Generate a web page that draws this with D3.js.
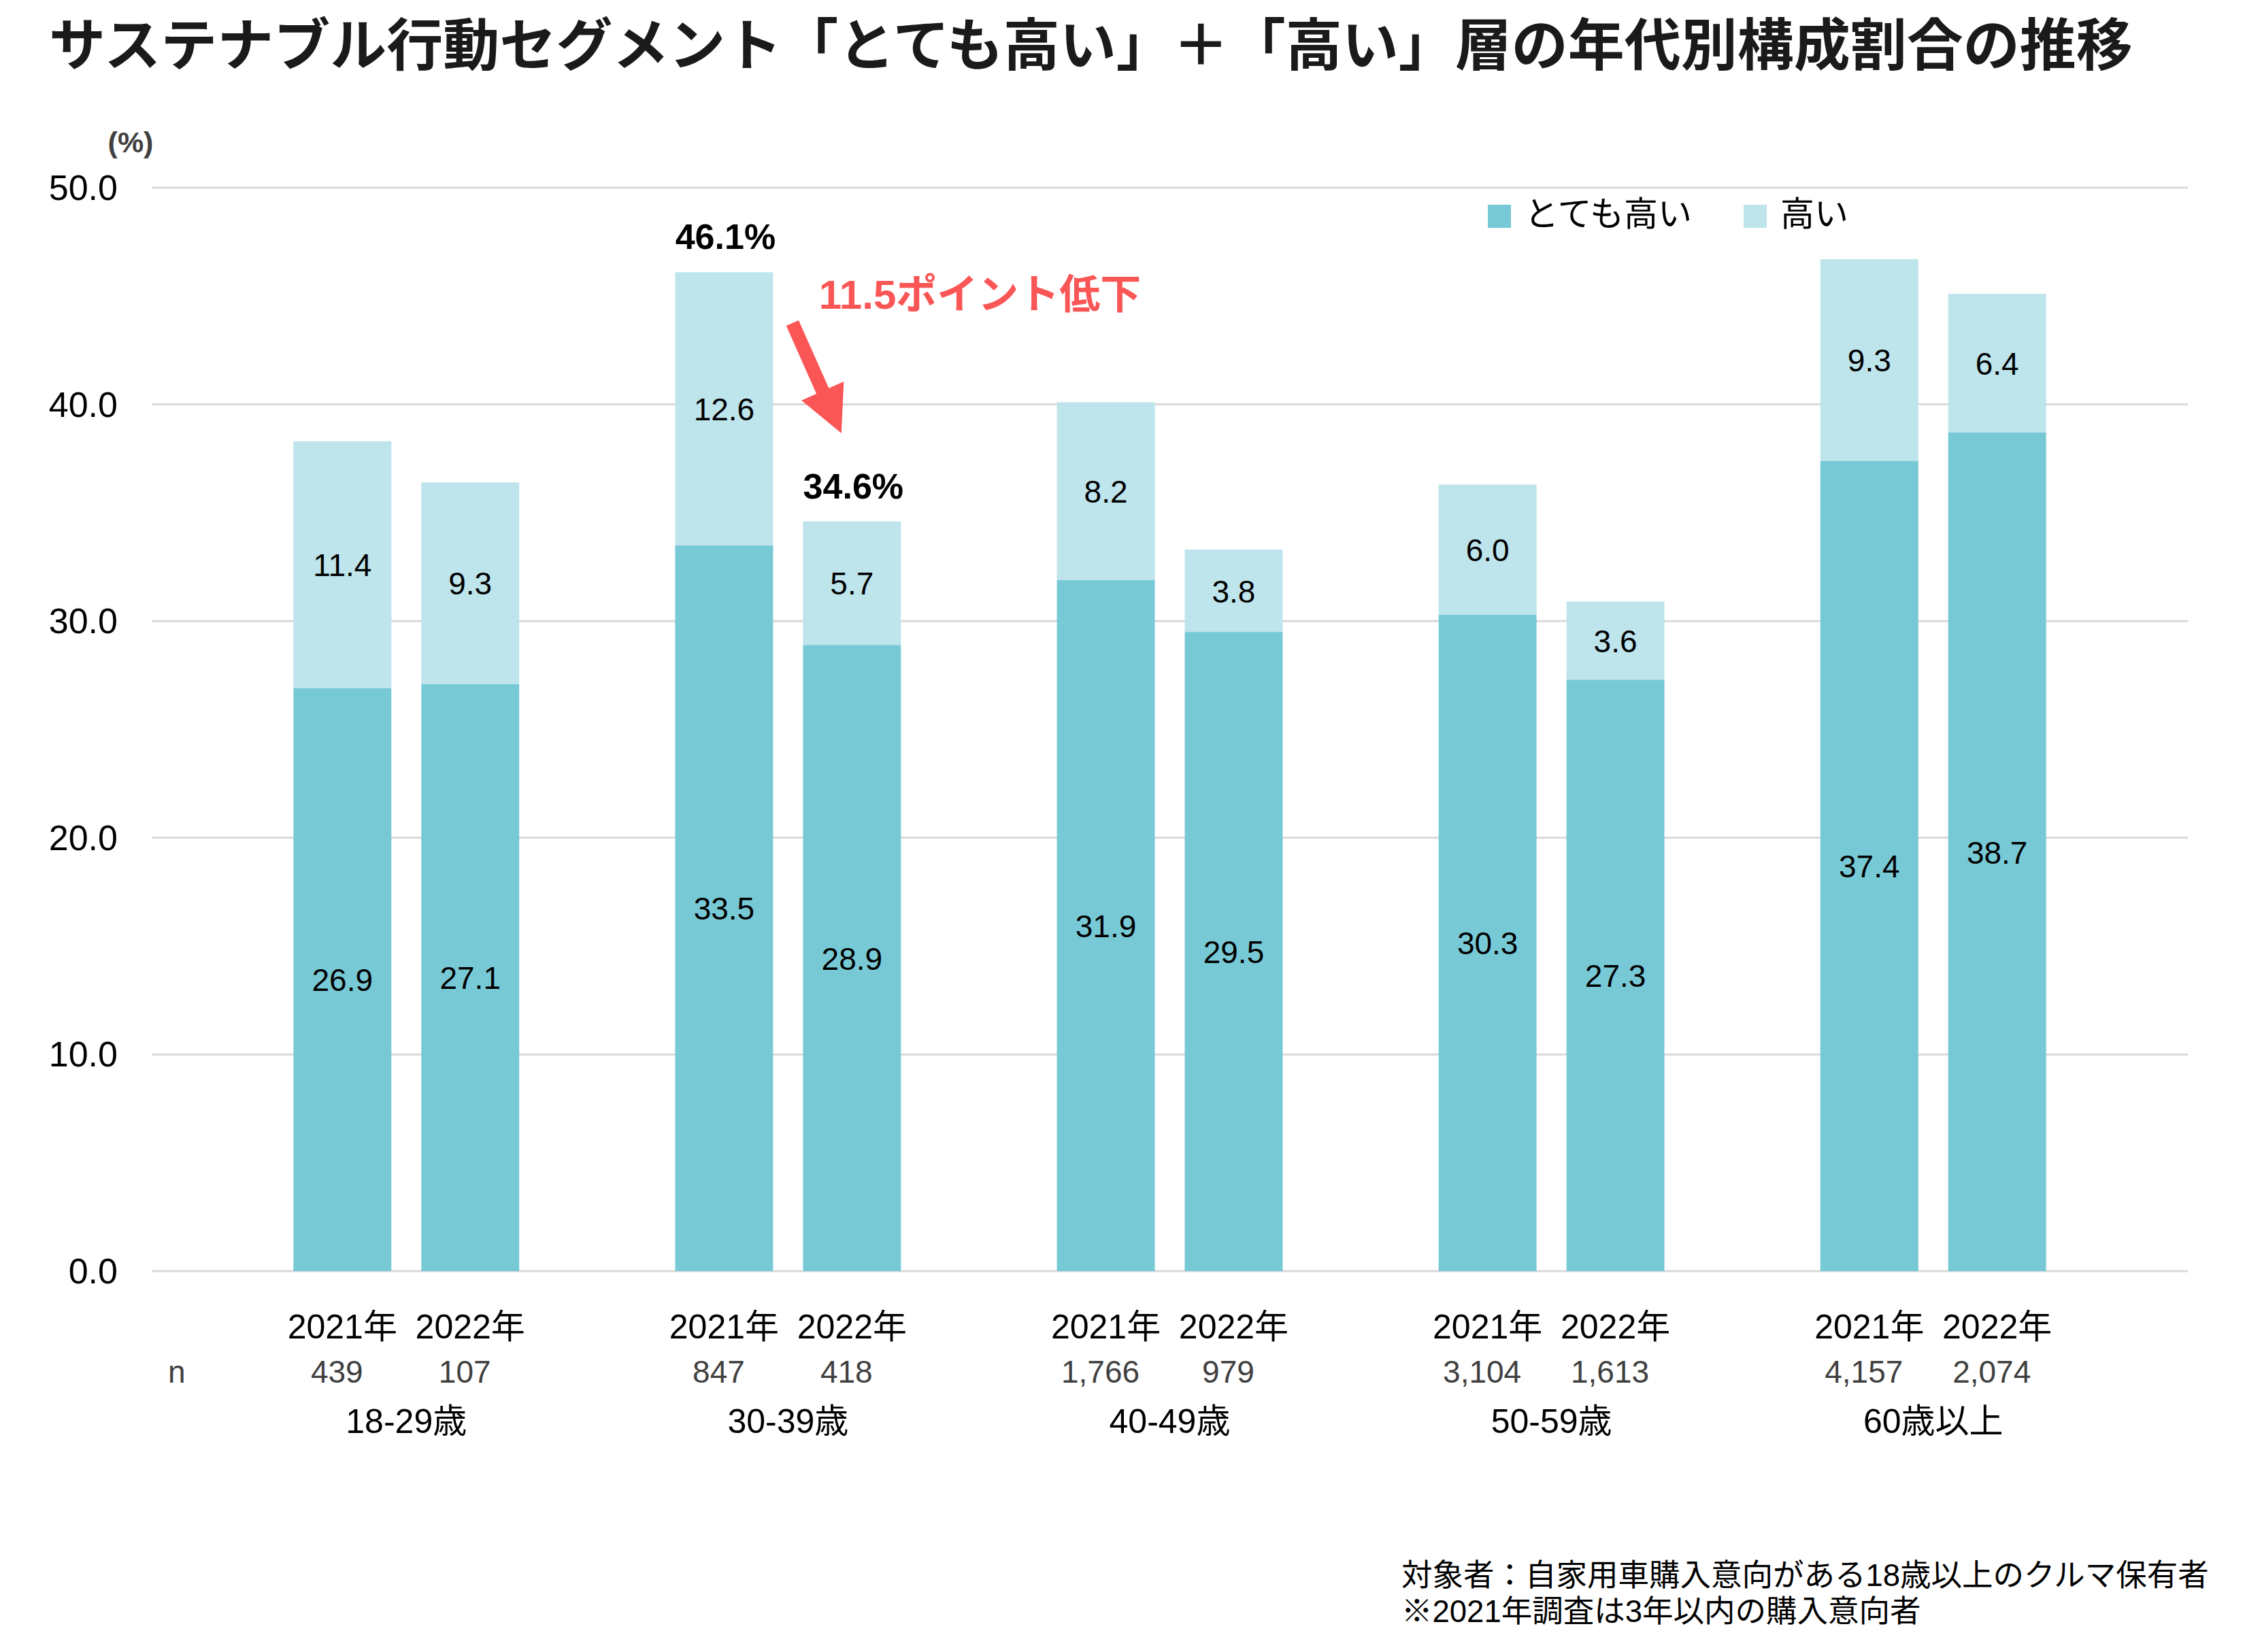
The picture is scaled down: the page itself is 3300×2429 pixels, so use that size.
<!DOCTYPE html>
<html>
<head>
<meta charset="utf-8">
<script src="https://cdn.jsdelivr.net/npm/d3@7"></script>
<style>
  body { margin: 0; background: #fff; }
  text { font-family: "Liberation Sans", Arial, "Noto Sans CJK JP", sans-serif; }
  .jp { font-family: "Noto Sans CJK JP", sans-serif; }
</style>
</head>
<body>
<div id="chart"></div>
<script>
// stacked bars: sustainable segment by age group, 2021 vs 2022

var groups = ["18-29歳", "30-39歳", "40-49歳", "50-59歳", "60歳以上"]
var years = ["2021年", "2022年"]

var veryHigh2021 = [26.9, 33.5, 31.9, 30.3, 37.4]
var veryHigh2022 = [27.1, 28.9, 29.5, 27.3, 38.7]
var high2021 = [11.4, 12.6, 8.2, 6.0, 9.3]
var high2022 = [9.3, 5.7, 3.8, 3.6, 6.4]

var n2021 = ["439", "847", "1,766", "3,104", "4,157"]
var n2022 = ["107", "418", "979", "1,613", "2,074"]

var yTicks = [0, 10, 20, 30, 40, 50]
var seriesNames = ["とても高い", "高い"]

var darkColor = "#78C9D6"
var lightColor = "#BEE4EC"

var width = 3300, height = 2429
var plot = { left: 223, right: 3216, top: 276, bottom: 1869 }

var svg = d3.select("#chart").append("svg")
    .attr("width", width)
    .attr("height", height)

// rows for drawing
var rows = []
groups.forEach(function (g, i) {
  rows.push({ group: g, year: years[0], dark: veryHigh2021[i], light: high2021[i], n: n2021[i] })
  rows.push({ group: g, year: years[1], dark: veryHigh2022[i], light: high2022[i], n: n2022[i] })
})

// Scales

var y = d3.scaleLinear()
  .domain([0, 50])
  .range([plot.bottom, plot.top])

var x0 = d3.scaleBand()
  .domain(groups)
  .range([plot.left, plot.right])
  .paddingInner(0)
  .paddingOuter(0.167)

var x1 = d3.scaleBand()
  .domain(years)
  .range([0, x0.bandwidth()])
  .paddingInner(0.234)
  .paddingOuter(0.61)

function barX(d) { return x0(d.group) + x1(d.year) }
function barMid(d) { return barX(d) + x1.bandwidth() / 2 }

// Title

svg.append("text")
  .attr("class", "jp")
  .attr("x", 72)
  .attr("y", 96)
  .attr("font-size", 83)
  .attr("font-weight", 700)
  .attr("fill", "#1a1a1a")
  .text("サステナブル行動セグメント「とても高い」＋「高い」層の年代別構成割合の推移")

// Gridlines + y labels

svg.selectAll(".grid")
  .data(yTicks)
  .enter().append("line")
  .attr("class", "grid")
  .attr("x1", plot.left)
  .attr("x2", plot.right)
  .attr("y1", function (d) { return y(d) })
  .attr("y2", function (d) { return y(d) })
  .attr("stroke", "#D9D9D9")
  .attr("stroke-width", 3)

svg.selectAll(".ylabel")
  .data(yTicks)
  .enter().append("text")
  .attr("class", "ylabel")
  .attr("x", 173)
  .attr("y", function (d) { return y(d) + 18 })
  .attr("text-anchor", "end")
  .attr("font-size", 52)
  .attr("fill", "#000")
  .text(function (d) { return d3.format(".1f")(d) })

svg.append("text")
  .attr("x", 192)
  .attr("y", 224)
  .attr("text-anchor", "middle")
  .attr("font-size", 43)
  .attr("font-weight", 700)
  .attr("fill", "#404040")
  .text("(%)")

// Bars

svg.selectAll(".dark")
  .data(rows)
  .enter().append("rect")
  .attr("class", "dark")
  .attr("x", barX)
  .attr("width", x1.bandwidth())
  .attr("y", function (d) { return y(d.dark) })
  .attr("height", function (d) { return y(0) - y(d.dark) })
  .attr("fill", darkColor)

svg.selectAll(".light")
  .data(rows)
  .enter().append("rect")
  .attr("class", "light")
  .attr("x", barX)
  .attr("width", x1.bandwidth())
  .attr("y", function (d) { return y(d.dark + d.light) })
  .attr("height", function (d) { return y(d.dark) - y(d.dark + d.light) })
  .attr("fill", lightColor)

// Value labels

svg.selectAll(".darklabel")
  .data(rows)
  .enter().append("text")
  .attr("x", barMid)
  .attr("y", function (d) { return y(d.dark / 2) + 17 })
  .attr("text-anchor", "middle")
  .attr("font-size", 46)
  .attr("fill", "#000")
  .text(function (d) { return d3.format(".1f")(d.dark) })

svg.selectAll(".lightlabel")
  .data(rows)
  .enter().append("text")
  .attr("x", barMid)
  .attr("y", function (d) { return y(d.dark + d.light / 2) + 17 })
  .attr("text-anchor", "middle")
  .attr("font-size", 46)
  .attr("fill", "#000")
  .text(function (d) { return d3.format(".1f")(d.light) })

// Totals for 30-39

var highlight = rows.filter(function (d) { return d.group === "30-39歳" })

svg.selectAll(".total")
  .data(highlight)
  .enter().append("text")
  .attr("x", function (d) { return barMid(d) + 2 })
  .attr("y", function (d) { return y(d.dark + d.light) - 34 })
  .attr("text-anchor", "middle")
  .attr("font-size", 52)
  .attr("font-weight", 700)
  .attr("fill", "#000")
  .text(function (d) { return d3.format(".1f")(d.dark + d.light) + "%" })

// Annotation arrow

var red = "#FA5656"
var ax0 = x0("30-39歳")
var start = [ax0 + 287, 475], tip = [ax0 + 359, 637]
var dx = tip[0] - start[0], dy = tip[1] - start[1]
var len = Math.sqrt(dx * dx + dy * dy)
var ux = dx / len, uy = dy / len, px = -uy, py = ux
var headLen = 68, headHalf = 34, shaftHalf = 10
var bx = tip[0] - ux * headLen, by = tip[1] - uy * headLen
var arrowPts = [
  [start[0] + px * shaftHalf, start[1] + py * shaftHalf],
  [bx + px * shaftHalf, by + py * shaftHalf],
  [bx + px * headHalf, by + py * headHalf],
  tip,
  [bx - px * headHalf, by - py * headHalf],
  [bx - px * shaftHalf, by - py * shaftHalf],
  [start[0] - px * shaftHalf, start[1] - py * shaftHalf]
]
svg.append("polygon")
  .attr("points", arrowPts.map(function (p) { return p.join(",") }).join(" "))
  .attr("fill", red)

svg.append("text")
  .attr("x", ax0 + 326)
  .attr("y", 454)
  .attr("font-size", 60)
  .attr("font-weight", 700)
  .attr("fill", red)
  .text("11.5ポイント低下")

// Legend

var legend = svg.selectAll(".legend")
  .data(seriesNames)
  .enter().append("g")
  .attr("transform", function (d, i) { return "translate(" + (2187 + i * 376) + ",301)" })

legend.append("rect")
  .attr("width", 34)
  .attr("height", 34)
  .attr("fill", function (d, i) { return i === 0 ? darkColor : lightColor })

legend.append("text")
  .attr("class", "jp")
  .attr("x", 54)
  .attr("y", 31)
  .attr("font-size", 50)
  .attr("fill", "#000")
  .text(function (d) { return d })

// X axis labels

svg.selectAll(".yearlabel")
  .data(rows)
  .enter().append("text")
  .attr("x", barMid)
  .attr("y", 1968)
  .attr("text-anchor", "middle")
  .attr("font-size", 50)
  .attr("fill", "#000")
  .text(function (d) { return d.year })

svg.append("text")
  .attr("x", 247)
  .attr("y", 2033)
  .attr("font-size", 46)
  .attr("fill", "#404040")
  .text("n")

svg.selectAll(".nlabel")
  .data(rows)
  .enter().append("text")
  .attr("x", function (d) { return barMid(d) - 8 })
  .attr("y", 2033)
  .attr("text-anchor", "middle")
  .attr("font-size", 46)
  .attr("fill", "#404040")
  .text(function (d) { return d.n })

svg.selectAll(".grouplabel")
  .data(groups)
  .enter().append("text")
  .attr("x", function (d) { return x0(d) + x0.bandwidth() / 2 })
  .attr("y", 2107)
  .attr("text-anchor", "middle")
  .attr("font-size", 50)
  .attr("fill", "#000")
  .text(function (d) { return d })

// Footnote

var notes = ["対象者：自家用車購入意向がある18歳以上のクルマ保有者", "※2021年調査は3年以内の購入意向者"]

svg.selectAll(".note")
  .data(notes)
  .enter().append("text")
  .attr("class", "note")
  .attr("x", 2060)
  .attr("y", function (d, i) { return 2332 + i * 53 })
  .attr("font-size", 45.5)
  .attr("fill", "#000")
  .text(function (d) { return d })
</script>
</body>
</html>
